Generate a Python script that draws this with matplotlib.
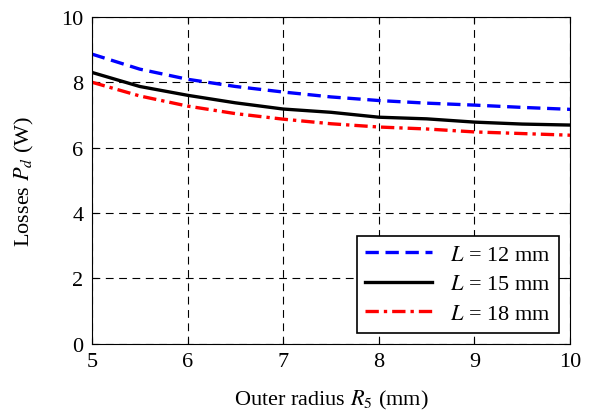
import matplotlib
matplotlib.use("Agg")
import matplotlib.pyplot as plt

plt.rcParams['font.family'] = 'Liberation Serif'
plt.rcParams['mathtext.fontset'] = 'stix'

# outer radius R5 (mm) and losses Pd (W) for three axial lengths
radius = [5, 5.5, 6, 6.5, 7, 7.5, 8, 8.5, 9, 9.5, 10]
loss_12 = [8.86, 8.40, 8.09, 7.87, 7.70, 7.55, 7.44, 7.36, 7.30, 7.23, 7.17]
loss_15 = [8.30, 7.87, 7.60, 7.37, 7.18, 7.08, 6.93, 6.88, 6.78, 6.72, 6.69]
loss_18 = [8.00, 7.58, 7.27, 7.04, 6.87, 6.73, 6.63, 6.57, 6.48, 6.43, 6.38]

fig = plt.figure(figsize=(5.89, 4.14), dpi=100)
ax = fig.add_axes([0.156, 0.167, 0.812, 0.79])

ax.plot(radius, loss_12, color='blue', lw=2.4, dashes=(4, 2), label='$L$ = 12 mm')
ax.plot(radius, loss_15, color='black', lw=2.4, label='$L$ = 15 mm')
ax.plot(radius, loss_18, color='red', lw=2.4, dashes=(4, 1.5, 1, 1.5), label='$L$ = 18 mm')

ax.set_xlim(5, 10)
ax.set_ylim(0, 10)
ax.set_xticks([5, 6, 7, 8, 9, 10])
ax.set_yticks([0, 2, 4, 6, 8, 10])
ax.grid(True, color='black', lw=0.8, dashes=(7, 5))
ax.tick_params(direction='in', top=True, right=True, labelsize=16, length=4, pad=6)
ax.set_xlabel('Outer radius $R_{\\mathrm{5}}$ (mm)', fontsize=16, labelpad=12)
ax.set_ylabel('Losses $P_d$ (W)', fontsize=16, labelpad=18)

leg = ax.legend(loc='lower right', fontsize=16, fancybox=False, framealpha=1,
                edgecolor='black', handlelength=3.0, borderaxespad=0.5,
                labelspacing=0.4)
leg.get_frame().set_linewidth(1.2)

fig.savefig('out.png', dpi=100)
